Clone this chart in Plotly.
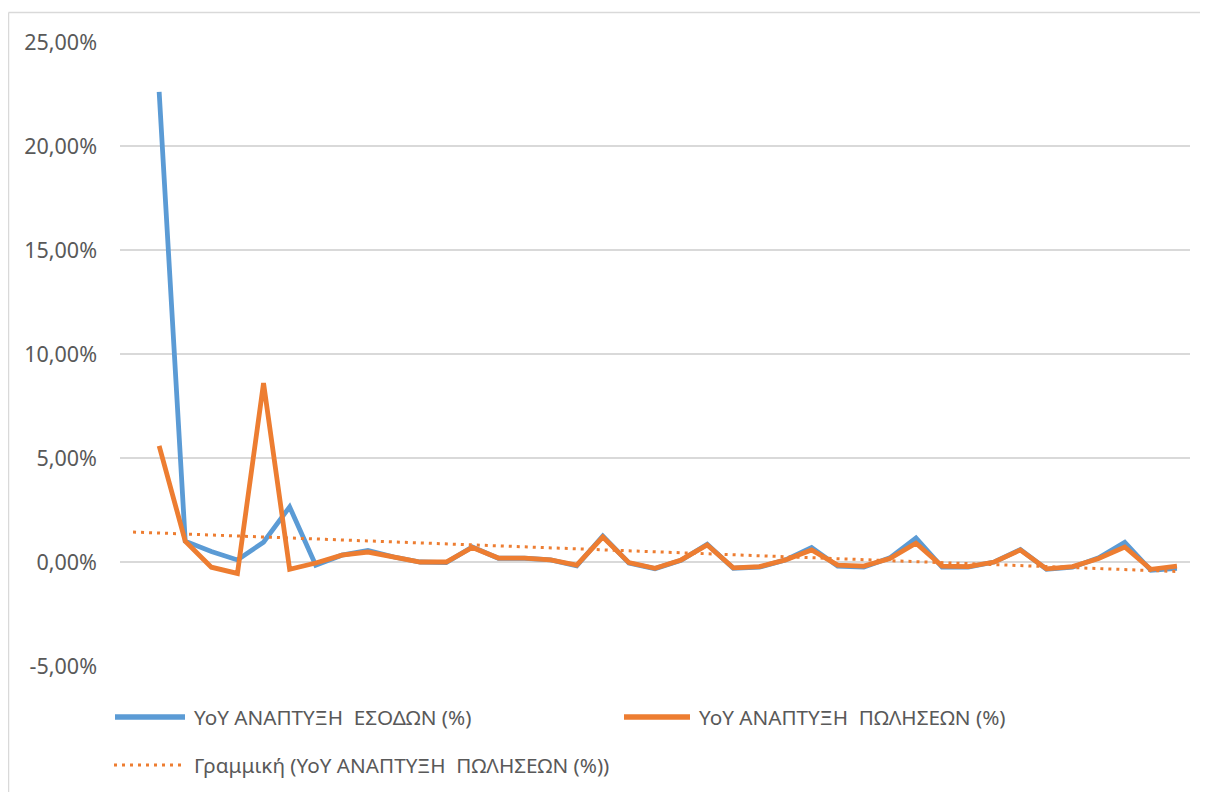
import numpy as np
import plotly.graph_objects as go

# ---- data (values in %) ----
revenue_growth = [22.6, 1.0, 0.5, 0.1, 0.95, 2.65, -0.15, 0.33, 0.55, 0.24,
                  0.0, -0.03, 0.72, 0.18, 0.18, 0.1, -0.18, 1.25, -0.05, -0.32,
                  0.08, 0.85, -0.3, -0.25, 0.1, 0.7, -0.2, -0.25, 0.2, 1.15,
                  -0.25, -0.25, 0.0, 0.6, -0.35, -0.25, 0.2, 0.95, -0.4, -0.3]
sales_growth = [5.58, 1.0, -0.25, -0.55, 8.6, -0.35, -0.05, 0.33, 0.48, 0.24,
                0.0, 0.0, 0.7, 0.19, 0.19, 0.1, -0.15, 1.2, -0.03, -0.3,
                0.1, 0.82, -0.28, -0.22, 0.1, 0.58, -0.15, -0.2, 0.17, 0.9,
                -0.2, -0.22, 0.0, 0.58, -0.33, -0.22, 0.17, 0.72, -0.35, -0.2]
categories = list(range(len(sales_growth)))

tick_values = [-5, 0, 5, 10, 15, 20, 25]
tick_labels = ["-5,00%", "0,00%", "5,00%", "10,00%", "15,00%", "20,00%", "25,00%"]

name_rev = "ΥοΥ ΑΝΑΠΤΥΞΗ  ΕΣΟΔΩΝ (%)"
name_sales = "ΥοΥ ΑΝΑΠΤΥΞΗ  ΠΩΛΗΣΕΩΝ (%)"
name_trend = "Γραμμική (ΥοΥ ΑΝΑΠΤΥΞΗ  ΠΩΛΗΣΕΩΝ (%))"

BLUE = "#5B9BD5"
ORANGE = "#ED7D31"
GRID = "#D9D9D9"
TEXT = "#595959"
FONT = "Noto Sans"

# linear trendline (least squares on the sales series)
slope, intercept = np.polyfit(categories, sales_growth, 1)
trend_x = [-1, categories[-1]]
trend_y = [intercept + slope * x for x in trend_x]

fig = go.Figure()
fig.add_trace(go.Scatter(x=categories, y=revenue_growth, mode="lines", name=name_rev,
                         line=dict(color=BLUE, width=4.8), showlegend=False))
fig.add_trace(go.Scatter(x=trend_x, y=trend_y, mode="lines", name=name_trend,
                         line=dict(color=ORANGE, width=3, dash="3px,5px"), showlegend=False))
fig.add_trace(go.Scatter(x=categories, y=sales_growth, mode="lines", name=name_sales,
                         line=dict(color=ORANGE, width=4.8), showlegend=False))

OFF = 8  # default body margin of the html page
W, H = 1208 - OFF, 792 - OFF
L, R, T, B = 120 - OFF, 1190 - OFF, 42 - OFF, 666 - OFF


def px(x):
    return (x - OFF - L) / (R - L)


def py(y):
    return (B - (y - OFF)) / (B - T)


shapes = [
    # chart area border (top and left edges visible)
    dict(type="line", xref="paper", yref="paper", x0=px(8.5), x1=px(1250), y0=py(12.5), y1=py(12.5),
         line=dict(color=GRID, width=1.5), layer="below"),
    dict(type="line", xref="paper", yref="paper", x0=px(8.5), x1=px(8.5), y0=py(12.5), y1=py(900),
         line=dict(color=GRID, width=1.5), layer="below"),
    # legend symbols
    dict(type="line", xref="paper", yref="paper", x0=px(115), x1=px(185), y0=py(717), y1=py(717),
         line=dict(color=BLUE, width=5.5)),
    dict(type="line", xref="paper", yref="paper", x0=px(624), x1=px(690), y0=py(717), y1=py(717),
         line=dict(color=ORANGE, width=5.5)),
    dict(type="line", xref="paper", yref="paper", x0=px(114), x1=px(186), y0=py(765), y1=py(765),
         line=dict(color=ORANGE, width=3, dash="3px,5px")),
]

annotations = [
    dict(text=name_rev, x=px(192), y=py(717), xanchor="left", yanchor="middle"),
    dict(text=name_sales, x=px(697), y=py(717), xanchor="left", yanchor="middle"),
    dict(text=name_trend, x=px(192), y=py(765), xanchor="left", yanchor="middle"),
]
for a in annotations:
    a.update(xref="paper", yref="paper", showarrow=False,
             font=dict(family=FONT, size=20.7, color=TEXT))

fig.update_layout(
    width=W, height=H,
    margin=dict(l=L, r=W - R, t=T, b=H - B, pad=0),
    paper_bgcolor="white", plot_bgcolor="white",
    showlegend=False,
    shapes=shapes, annotations=annotations,
    font=dict(family=FONT, color=TEXT),
)
fig.update_xaxes(range=[-1.5, len(categories) - 0.5], showgrid=False, showticklabels=False,
                 zeroline=False, showline=False, ticks="")
fig.update_yaxes(range=[-5, 25], tickvals=tick_values, ticktext=tick_labels,
                 showgrid=True, gridcolor=GRID, gridwidth=1.5, zeroline=False, showline=False,
                 ticks="", ticklabelstandoff=22, tickfont=dict(family=FONT, size=21.5, color=TEXT))

fig.write_html("out.html")
